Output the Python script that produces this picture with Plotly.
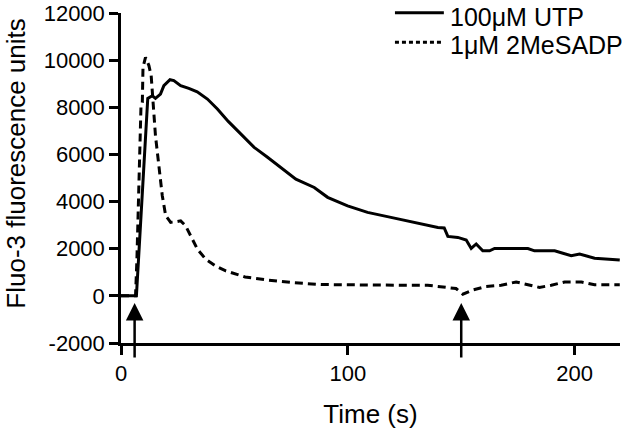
import plotly.graph_objects as go

# ---- data ----
time_utp = [0, 6.8, 11.8, 13.8, 15.2, 17.4, 18.9, 21.6, 23.3, 26.3, 29.9, 33.6, 38.1, 42.5,
            47.3, 52.8, 58.7, 64.6, 70.4, 77.1, 85.2, 91.1, 99.9, 108.7, 119, 129.3, 139.7,
            142.5, 144.1, 148.5, 152.2, 154.4, 156.6, 159.5, 162.5, 164.7, 179.4, 182.3,
            191.2, 198.5, 202.2, 208.8, 214, 219.9]
fluo_utp = [0, 0, 8380, 8490, 8380, 8560, 8920, 9170, 9130, 8920, 8800, 8660, 8350, 7930,
            7400, 6870, 6300, 5880, 5450, 4950, 4600, 4180, 3820, 3540, 3330, 3120, 2900,
            2880, 2520, 2480, 2370, 2010, 2200, 1910, 1910, 2010, 2010, 1910,
            1910, 1700, 1770, 1600, 1560, 1520]

time_mes = [0, 6.4, 7.0, 7.6, 8.3, 8.8, 9.4, 9.7, 10.8, 12.3, 13.3, 14.2, 15.2, 16.7, 18.2,
            19.7, 21.9, 24.1, 26.3, 28.5, 30.7, 33.7, 37.3, 41.7, 46.2, 54.7, 63.8, 75.9,
            88.1, 100.2, 123.5, 135.2, 144.8, 147.7, 150.7, 155.1, 161, 167.6, 174.2, 178.7,
            184.5, 189.7, 195.6, 203, 208.8, 219.9]
fluo_mes = [0, 0, 1500, 4000, 6500, 8000, 8200, 9700, 10120, 9770, 9340, 8070, 6790, 5520, 4250,
            3400, 3120, 3140, 3180, 2970, 2550, 1980, 1560, 1270, 1060, 800, 680, 560,
            480, 460, 450, 450, 360, 310, 70, 250, 400, 450, 590, 500,
            360, 450, 590, 590, 470, 470]

series_names = ["100\u03bcM UTP", "1\u03bcM 2MeSADP"]
arrow_times = [6, 150]
arrow_tip_value = -300

x_ticks = [0, 100, 200]
y_ticks = [-2000, 0, 2000, 4000, 6000, 8000, 10000, 12000]
y_tick_labels = ["-2000", "0", "2000", "4000", "6000", "8000", "10000", "12000"]

FONT = "Liberation Sans, Arial, sans-serif"

fig = go.Figure()
fig.add_trace(go.Scatter(x=time_utp, y=fluo_utp, mode="lines", name=series_names[0],
                         line=dict(color="black", width=3), showlegend=False))
fig.add_trace(go.Scatter(x=time_mes, y=fluo_mes, mode="lines", name=series_names[1],
                         line=dict(color="black", width=3, dash="8px,5px"), showlegend=False))

# event arrows
for t in arrow_times:
    fig.add_annotation(x=t, y=arrow_tip_value, xref="x", yref="y", text="",
                       showarrow=True, arrowhead=2, arrowsize=1.4, arrowwidth=2.5,
                       arrowcolor="black", ax=0, ay=56, standoff=0)

# y-axis title
fig.add_annotation(text="Fluo-3 fluorescence units", xref="paper", yref="paper",
                   x=-0.21, y=0.544, textangle=-90, showarrow=False,
                   xanchor="center", yanchor="middle",
                   font=dict(family=FONT, size=26, color="black"))

# legend (drawn in the top-right corner, partly above the plot area)
legend_line_y = [1.001, 0.911]
legend_text_y = [0.988, 0.902]
legend_dash = [None, "4px,3px"]
for name, ly, ty, dsh in zip(series_names, legend_line_y, legend_text_y, legend_dash):
    fig.add_shape(type="line", xref="paper", yref="paper", x0=0.549, x1=0.647, y0=ly, y1=ly,
                  line=dict(color="black", width=3, dash=dsh))
    fig.add_annotation(text=name, xref="paper", yref="paper", x=0.655, y=ty,
                       xanchor="left", yanchor="middle", showarrow=False,
                       font=dict(family=FONT, size=25, color="black"))

fig.update_layout(
    width=640, height=430, autosize=False,
    margin=dict(l=121, r=20, t=13, b=87),
    paper_bgcolor="white", plot_bgcolor="white",
    font=dict(family=FONT, color="black"),
    showlegend=False,
)
fig.update_xaxes(range=[0, 220], tickvals=x_ticks, ticks="outside", ticklen=9, tickwidth=2.5,
                 tickcolor="black", showline=True, linewidth=2.5, linecolor="black",
                 showgrid=False, zeroline=False, automargin=False,
                 tickfont=dict(family=FONT, size=22, color="black"),
                 title=dict(text="Time (s)", standoff=20,
                            font=dict(family=FONT, size=26, color="black")))
fig.update_yaxes(range=[-2000, 12000], tickvals=y_ticks, ticktext=y_tick_labels,
                 ticks="outside", ticklen=9,
                 tickwidth=2.5, tickcolor="black", showline=True, linewidth=2.5,
                 linecolor="black", showgrid=False, zeroline=False, automargin=False,
                 tickfont=dict(family=FONT, size=22, color="black"))

fig.write_html("out.html", config={"displayModeBar": False},
               post_script="document.body.style.margin='0px';")
